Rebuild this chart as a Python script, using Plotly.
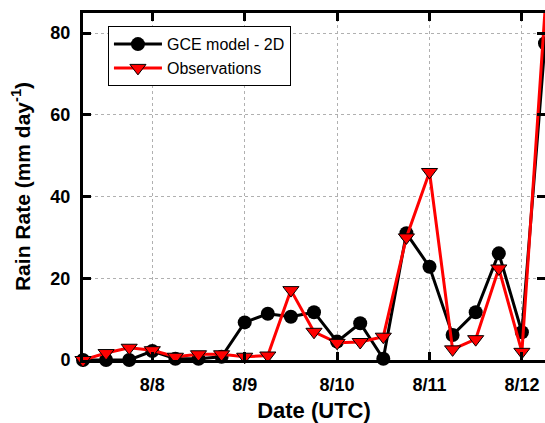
import plotly.graph_objects as go

times = ["2008-08-07 06:00", "2008-08-07 12:00", "2008-08-07 18:00",
         "2008-08-08 00:00", "2008-08-08 06:00", "2008-08-08 12:00", "2008-08-08 18:00",
         "2008-08-09 00:00", "2008-08-09 06:00", "2008-08-09 12:00", "2008-08-09 18:00",
         "2008-08-10 00:00", "2008-08-10 06:00", "2008-08-10 12:00", "2008-08-10 18:00",
         "2008-08-11 00:00", "2008-08-11 06:00", "2008-08-11 12:00", "2008-08-11 18:00",
         "2008-08-12 00:00", "2008-08-12 06:00"]
gce = [0.0, 0.0, 0.0, 2.2, 0.3, 0.3, 0.8, 9.2, 11.3, 10.6, 11.7, 4.5, 9.0, 0.3,
       31.0, 22.8, 6.1, 11.7, 26.1, 6.8, 77.5]
obs = [0.0, 1.7, 3.0, 2.4, 0.8, 1.4, 1.4, 0.8, 1.1, 17.1, 6.9, 4.2, 4.4, 5.7,
       30.0, 46.0, 2.6, 5.1, 22.4, 2.0, 85.5]
tick_dates = ["2008-08-08", "2008-08-09", "2008-08-10", "2008-08-11", "2008-08-12"]
tick_labels = ["8/8", "8/9", "8/10", "8/11", "8/12"]
y_ticks = [0, 20, 40, 60, 80]

FONT = "Liberation Sans, Arial, sans-serif"

fig = go.Figure()
fig.add_trace(go.Scatter(
    x=times, y=gce, mode="lines+markers", name="GCE model - 2D",
    line=dict(color="black", width=3),
    marker=dict(symbol="circle", size=14, color="black"),
    cliponaxis=False))
fig.add_trace(go.Scatter(
    x=times, y=obs, mode="lines+markers", name="Observations",
    line=dict(color="#ff0000", width=3),
    marker=dict(symbol="triangle-down", size=14, color="#ff0000",
                line=dict(color="black", width=1)),
    cliponaxis=False))
fig.add_trace(go.Scatter(x=[times[0]], y=[0], yaxis="y2", mode="markers",
                         marker=dict(opacity=0), showlegend=False, hoverinfo="skip"))

fig.update_layout(
    width=545, height=423,
    margin=dict(l=83, r=0, t=13, b=63),
    paper_bgcolor="white", plot_bgcolor="white",
    font=dict(family=FONT, color="black"),
    showlegend=True,
    legend=dict(x=0.054, y=0.962, xanchor="left", yanchor="top",
                bordercolor="black", borderwidth=1, bgcolor="white",
                font=dict(size=16, family=FONT), itemwidth=48,
                tracegroupgap=0),
    xaxis=dict(
        type="date",
        range=["2008-08-07 06:00", "2008-08-12 06:00"],
        tickvals=tick_dates, ticktext=tick_labels,
        ticks="inside", ticklen=8, tickwidth=2.5, tickcolor="black",
        showline=True, linewidth=3, linecolor="black", mirror="ticks",
        showgrid=True, gridcolor="#b0b0b0", griddash="dot", gridwidth=1,
        zeroline=False,
        tickfont=dict(size=18, weight="bold", family=FONT),
        ticklabelstandoff=6,
        title=dict(text="Date (UTC)", font=dict(size=22, weight="bold", family=FONT),
                   standoff=11),
        automargin=False),
    yaxis=dict(
        range=[0, 84.9],
        tickvals=y_ticks,
        ticks="inside", ticklen=8, tickwidth=2.5, tickcolor="black",
        showline=True, linewidth=3, linecolor="black", mirror=False,
        showgrid=True, gridcolor="#b0b0b0", griddash="dot", gridwidth=1,
        zeroline=False,
        tickfont=dict(size=18, weight="bold", family=FONT),
        ticklabelstandoff=6,
        title=dict(text="Rain Rate (mm day<sup>-1</sup>)",
                   font=dict(size=21, weight="bold", family=FONT), standoff=15),
        automargin=False),
    yaxis2=dict(
        overlaying="y", side="right", range=[0, 84.9], tickvals=y_ticks,
        ticks="inside", ticklen=8, tickwidth=2.5, tickcolor="black",
        showticklabels=False, showline=False, showgrid=False, zeroline=False),
)

fig.write_html("out.html")
